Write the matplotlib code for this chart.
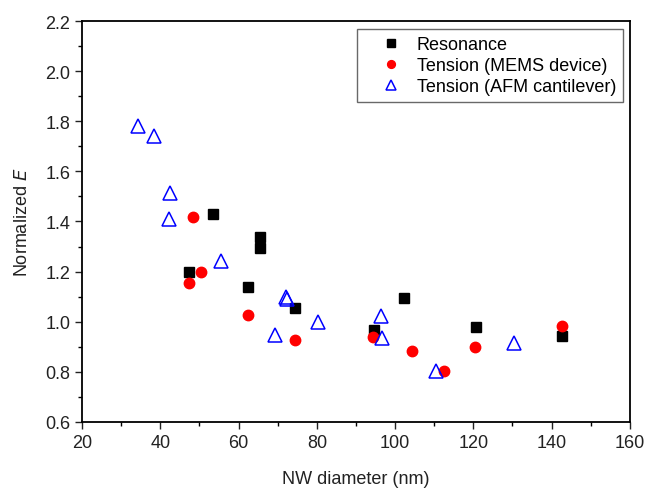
import numpy as np
import matplotlib.pyplot as plt
from matplotlib.ticker import MultipleLocator

plt.rcParams['font.family'] = ['Liberation Sans', 'DejaVu Sans']

# Resonance
res_x = [47.3, 53.4, 62.5, 65.5, 65.5, 74.5, 94.5, 102.4, 120.7, 142.6]
res_y = [1.199, 1.428, 1.137, 1.337, 1.293, 1.053, 0.967, 1.093, 0.979, 0.943]

# Tension (MEMS device)
mems_x = [48.4, 50.3, 47.3, 62.3, 74.4, 94.4, 104.4, 112.5, 120.5, 142.6]
mems_y = [1.416, 1.199, 1.156, 1.027, 0.927, 0.939, 0.883, 0.802, 0.900, 0.983]

# Tension (AFM cantilever)
afm_x = [34.3, 38.3, 42.4, 42.3, 55.4, 72.3, 72.0, 80.3, 69.3, 96.5, 96.6, 110.5, 130.5]
afm_y = [1.783, 1.743, 1.513, 1.411, 1.242, 1.090, 1.100, 1.000, 0.947, 1.022, 0.935, 0.805, 0.916]

fig = plt.figure(figsize=(6.46, 4.89), dpi=100)
ax = fig.add_axes([0.127, 0.135, 0.848, 0.82])

ax.plot(res_x, res_y, 's', color='black', markersize=7, linestyle='none', label='Resonance')
ax.plot(mems_x, mems_y, 'o', color='red', markersize=7.5, linestyle='none', label='Tension (MEMS device)')
ax.plot(afm_x, afm_y, '^', markerfacecolor='none', markeredgecolor='blue', markeredgewidth=1.1,
        markersize=10, linestyle='none', label='Tension (AFM cantilever)')

ax.set_xlim(20, 160)
ax.set_ylim(0.6, 2.2)
ax.xaxis.set_major_locator(MultipleLocator(20))
ax.xaxis.set_minor_locator(MultipleLocator(10))
ax.yaxis.set_major_locator(MultipleLocator(0.2))
ax.yaxis.set_minor_locator(MultipleLocator(0.1))
ax.yaxis.set_major_formatter(plt.FormatStrFormatter('%.1f'))
ax.tick_params(which='major', direction='out', length=5, width=1, labelsize=13, colors='#222222')
ax.tick_params(which='minor', direction='out', length=3, width=1)
for s in ax.spines.values():
    s.set_linewidth(1.3)

ax.set_xlabel('NW diameter (nm)', fontsize=13, color='#222222', labelpad=14)
ax.set_ylabel('Normalized $\\it{E}$', fontsize=13, color='#222222', labelpad=10)

leg = ax.legend(loc='upper right', bbox_to_anchor=(0.988, 0.98), borderaxespad=0, fontsize=13,
                frameon=True, fancybox=False, edgecolor='#444444', handletextpad=-0.1,
                borderpad=0.4, labelspacing=0.22, handlelength=3.0, markerscale=0.75)
leg.get_frame().set_linewidth(1.0)

fig.savefig('out.png', dpi=100)
